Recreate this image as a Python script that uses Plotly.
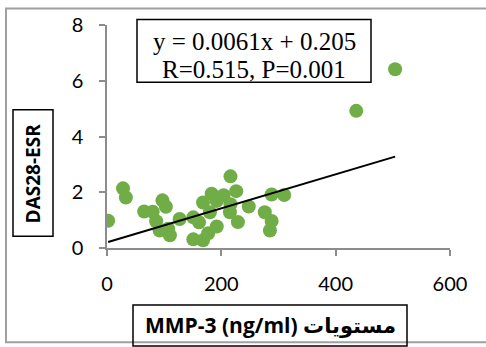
import plotly.graph_objects as go

# Data
mmp3 = [2, 28, 33, 65, 80, 86, 97, 103, 92, 107, 110, 127, 151, 151, 161, 168, 183,
        180, 168, 177, 192, 204, 216, 226, 216, 215, 229, 248, 276, 288, 288, 285,
        310, 436, 504, 192]
das28 = [0.98, 2.14, 1.81, 1.31, 1.30, 0.96, 1.71, 1.48, 0.63, 0.69, 0.46, 1.04, 0.31,
         1.10, 0.92, 1.63, 1.95, 1.28, 0.28, 0.53, 0.77, 1.89, 2.57, 2.04, 1.57, 1.28,
         0.93, 1.49, 1.28, 1.92, 0.97, 0.63, 1.90, 4.92, 6.41, 1.69]
slope = 0.0061
intercept = 0.205
eq_line1 = "y = 0.0061x + 0.205"
eq_line2 = "R=0.515, P=0.001"
x_title = "MMP-3 (ng/ml) مستويات"
y_title = "DAS28-ESR"

W, H = 486, 347
L, R_, T, B = 107, 450, 20.7, 248  # plot area pixels


def px(x):
    return (x - L) / (R_ - L)


def py(y):
    return (B - y) / (B - T)


x_line = [min(mmp3), max(mmp3)]
y_line = [slope * v + intercept for v in x_line]

fig = go.Figure()
fig.add_trace(go.Scatter(x=mmp3, y=das28, mode="markers",
                         marker=dict(color="#70AD47", size=14, line=dict(width=0)),
                         showlegend=False))
fig.add_trace(go.Scatter(x=x_line, y=y_line, mode="lines",
                         line=dict(color="black", width=2), showlegend=False))

axis_common = dict(showgrid=False, zeroline=False, showline=True, linecolor="#8c8c8c",
                   linewidth=1.5, ticks="outside", tickcolor="#8c8c8c", ticklen=6,
                   tickwidth=1.5, tickfont=dict(family="Lato", size=20, color="black"))

eq_font = dict(family="Liberation Serif", size=25, color="black")

fig.update_layout(
    width=W, height=H,
    margin=dict(l=L, r=W - R_, t=T, b=H - B, pad=0),
    paper_bgcolor="white", plot_bgcolor="white",
    xaxis=dict(range=[0, 600], tickvals=[0, 200, 400, 600], ticklabelstandoff=11,
               **axis_common),
    yaxis=dict(range=[0, 8], tickvals=[0, 2, 4, 6, 8], ticklabelstandoff=12,
               **axis_common),
    shapes=[
        dict(type="rect", xref="paper", yref="paper", x0=px(6), x1=px(500), y0=py(344),
             y1=py(4), line=dict(color="#a0a0a0", width=2), layer="below"),
        dict(type="rect", xref="paper", yref="paper", x0=px(137), x1=px(371), y0=py(79),
             y1=py(15), line=dict(color="black", width=1.5), fillcolor="white"),
        dict(type="rect", xref="paper", yref="paper", x0=px(13), x1=px(53), y0=py(236),
             y1=py(107), line=dict(color="black", width=1.5)),
        dict(type="rect", xref="paper", yref="paper", x0=px(133), x1=px(407), y0=py(348),
             y1=py(306), line=dict(color="black", width=1.5)),
    ],
    annotations=[
        dict(text=eq_line1, xref="paper", yref="paper", x=px(254), y=py(38),
             showarrow=False, xanchor="center", yanchor="middle", font=eq_font),
        dict(text=eq_line2, xref="paper", yref="paper", x=px(254), y=py(66),
             showarrow=False, xanchor="center", yanchor="middle", font=eq_font),
        dict(text="<b>" + y_title + "</b>", xref="paper", yref="paper", x=px(33),
             y=py(172), textangle=-90, showarrow=False, xanchor="center",
             yanchor="middle", font=dict(family="Open Sans, DejaVu Sans", size=19,
                                         color="black")),
        dict(text="<b>" + x_title + "</b>", xref="paper", yref="paper", x=px(270),
             y=py(326), showarrow=False, xanchor="center", yanchor="middle",
             font=dict(family="Open Sans, DejaVu Sans", size=21, color="black")),
    ],
)

fig.write_html("out.html")
